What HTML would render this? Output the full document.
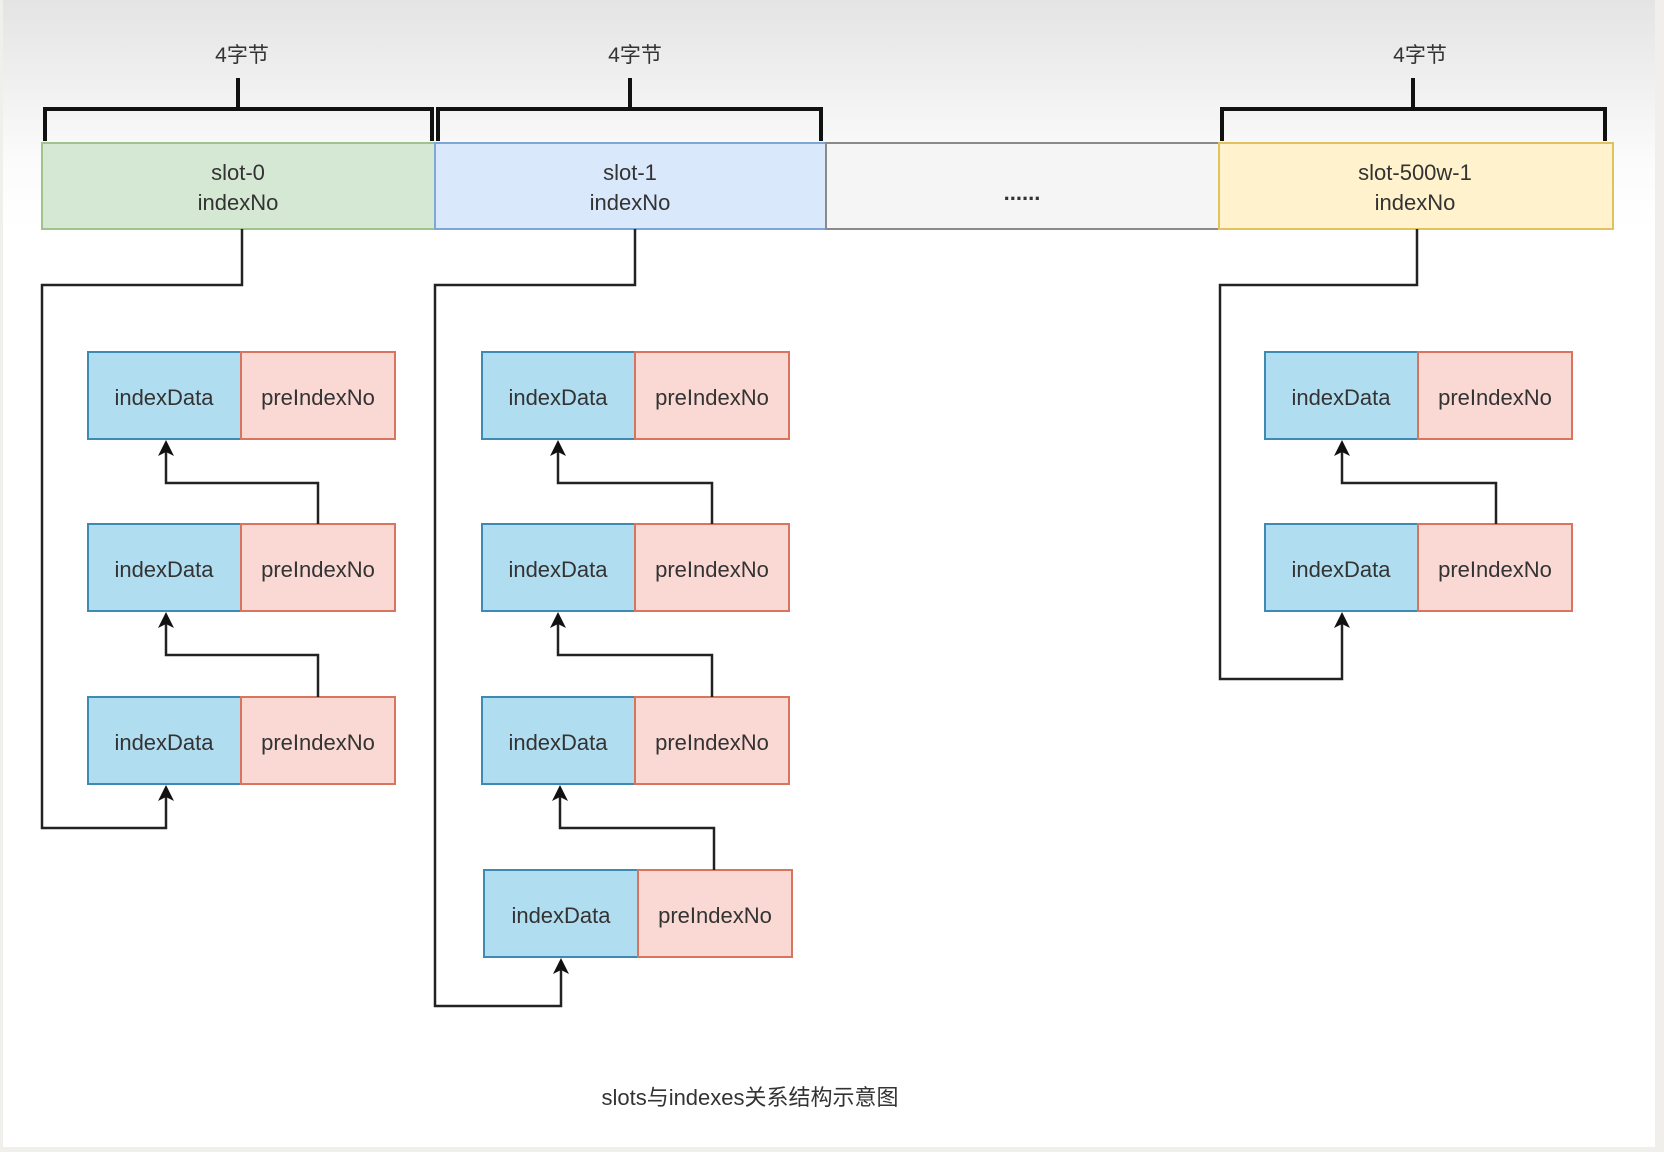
<!DOCTYPE html>
<html><head><meta charset="utf-8"><style>
html,body{margin:0;padding:0;width:1664px;height:1152px;overflow:hidden;background:#f0efeb}
svg{display:block}
text{font-family:"Liberation Sans","Noto Sans CJK SC",sans-serif;fill:#333;text-anchor:middle}
</style></head><body>
<svg width="1664" height="1152" viewBox="0 0 1664 1152" xmlns="http://www.w3.org/2000/svg">
<defs>
<linearGradient id="bg" x1="0" y1="0" x2="0" y2="1">
<stop offset="0" stop-color="#e4e4e4"/><stop offset="0.14" stop-color="#fbfbfb"/><stop offset="0.2" stop-color="#ffffff"/><stop offset="1" stop-color="#ffffff"/>
</linearGradient>
<marker id="ar" markerWidth="10" markerHeight="10" refX="5" refY="9" orient="auto" markerUnits="userSpaceOnUse" viewBox="0 0 10 10">
</marker>
</defs>
<rect x="3" y="0" width="1652" height="1147" fill="url(#bg)"/>
<!-- brackets -->
<g stroke="#111" stroke-width="4" fill="none">
<path d="M45 141 V109 H432 V141 M238 109 V78"/>
<path d="M438 141 V109 H821 V141 M630 109 V78"/>
<path d="M1222 141 V109 H1605 V141 M1413 109 V78"/>
</g>
<g font-size="21"><text x="242" y="62">4字节</text><text x="635" y="62">4字节</text><text x="1420" y="62">4字节</text></g>
<!-- slots -->
<g stroke-width="2">
<rect x="42" y="143" width="393" height="86" fill="#d5e8d4" stroke="#9fc28e"/>
<rect x="435" y="143" width="391" height="86" fill="#dae8fc" stroke="#7ea6d6"/>
<rect x="826" y="143" width="393" height="86" fill="#f5f5f5" stroke="#8a8a8a"/>
<rect x="1219" y="143" width="394" height="86" fill="#fff2cc" stroke="#e0c260"/>
</g>
<g font-size="22">
<text x="238" y="180">slot-0</text><text x="238" y="210">indexNo</text>
<text x="630" y="180">slot-1</text><text x="630" y="210">indexNo</text>
<text x="1022" y="200" font-weight="bold">......</text>
<text x="1415" y="180">slot-500w-1</text><text x="1415" y="210">indexNo</text>
</g>
<!-- nodes -->
<g id="n" stroke-width="2">
</g>
<g stroke-width="2" font-size="22">
<!-- col1 -->
<g>
<rect x="88" y="352" width="153" height="87" fill="#b1ddf0" stroke="#3d8bb5"/><rect x="241" y="352" width="154" height="87" fill="#fad9d5" stroke="#d9755f"/>
<rect x="88" y="524" width="153" height="87" fill="#b1ddf0" stroke="#3d8bb5"/><rect x="241" y="524" width="154" height="87" fill="#fad9d5" stroke="#d9755f"/>
<rect x="88" y="697" width="153" height="87" fill="#b1ddf0" stroke="#3d8bb5"/><rect x="241" y="697" width="154" height="87" fill="#fad9d5" stroke="#d9755f"/>
</g>
<g>
<rect x="482" y="352" width="153" height="87" fill="#b1ddf0" stroke="#3d8bb5"/><rect x="635" y="352" width="154" height="87" fill="#fad9d5" stroke="#d9755f"/>
<rect x="482" y="524" width="153" height="87" fill="#b1ddf0" stroke="#3d8bb5"/><rect x="635" y="524" width="154" height="87" fill="#fad9d5" stroke="#d9755f"/>
<rect x="482" y="697" width="153" height="87" fill="#b1ddf0" stroke="#3d8bb5"/><rect x="635" y="697" width="154" height="87" fill="#fad9d5" stroke="#d9755f"/>
<rect x="484" y="870" width="154" height="87" fill="#b1ddf0" stroke="#3d8bb5"/><rect x="638" y="870" width="154" height="87" fill="#fad9d5" stroke="#d9755f"/>
</g>
<g>
<rect x="1265" y="352" width="153" height="87" fill="#b1ddf0" stroke="#3d8bb5"/><rect x="1418" y="352" width="154" height="87" fill="#fad9d5" stroke="#d9755f"/>
<rect x="1265" y="524" width="153" height="87" fill="#b1ddf0" stroke="#3d8bb5"/><rect x="1418" y="524" width="154" height="87" fill="#fad9d5" stroke="#d9755f"/>
</g>
</g>
<g font-size="22">
<text x="164" y="405">indexData</text><text x="318" y="405">preIndexNo</text>
<text x="164" y="577">indexData</text><text x="318" y="577">preIndexNo</text>
<text x="164" y="750">indexData</text><text x="318" y="750">preIndexNo</text>
<text x="558" y="405">indexData</text><text x="712" y="405">preIndexNo</text>
<text x="558" y="577">indexData</text><text x="712" y="577">preIndexNo</text>
<text x="558" y="750">indexData</text><text x="712" y="750">preIndexNo</text>
<text x="561" y="923">indexData</text><text x="715" y="923">preIndexNo</text>
<text x="1341" y="405">indexData</text><text x="1495" y="405">preIndexNo</text>
<text x="1341" y="577">indexData</text><text x="1495" y="577">preIndexNo</text>
</g>
<!-- connectors -->
<g stroke="#222" stroke-width="2.5" fill="none">
<path d="M242 229 V285 H42 V828 H166 V796"/>
<path d="M318 524 V483 H166 V451"/>
<path d="M318 697 V655 H166 V623"/>
<path d="M635 229 V285 H435 V1006 H561 V969"/>
<path d="M712 524 V483 H558 V451"/>
<path d="M712 697 V655 H558 V623"/>
<path d="M714 870 V828 H560 V796"/>
<path d="M1417 229 V285 H1220 V679 H1342 V623"/>
<path d="M1496 524 V483 H1342 V451"/>
</g>
<g fill="#111">
<path d="M166 440 l-8 16 l8 -4 l8 4z"/>
<path d="M166 612 l-8 16 l8 -4 l8 4z"/>
<path d="M166 785 l-8 16 l8 -4 l8 4z"/>
<path d="M558 440 l-8 16 l8 -4 l8 4z"/>
<path d="M558 612 l-8 16 l8 -4 l8 4z"/>
<path d="M560 785 l-8 16 l8 -4 l8 4z"/>
<path d="M561 958 l-8 16 l8 -4 l8 4z"/>
<path d="M1342 440 l-8 16 l8 -4 l8 4z"/>
<path d="M1342 612 l-8 16 l8 -4 l8 4z"/>
</g>
<text x="750" y="1105" font-size="22">slots与indexes关系结构示意图</text>
</svg>
</body></html>
